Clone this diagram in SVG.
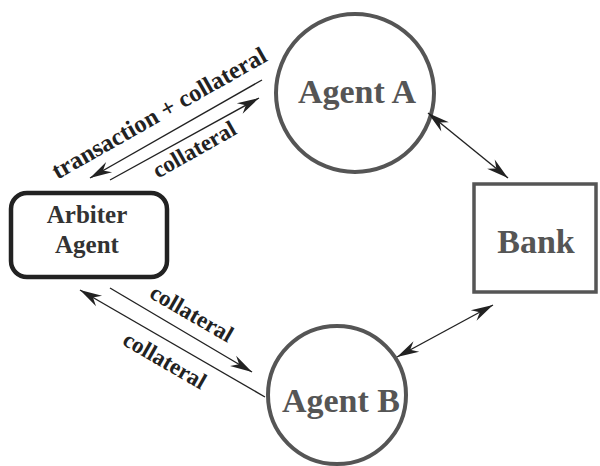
<svg xmlns="http://www.w3.org/2000/svg" width="600" height="466" viewBox="0 0 600 466">
  <style>
    .node { fill: none; stroke: #555; stroke-width: 4; }
    .label { font-family: "Liberation Serif", "Times New Roman", serif; font-weight: bold; fill: #555; text-anchor: middle; }
    .edge { stroke: #222; stroke-width: 1.4; fill: none; }
    .edge-label { font-family: "Liberation Serif", "Times New Roman", serif; font-weight: bold; font-size: 23px; fill: #222; text-anchor: middle; }
  </style>
  <defs>
    <marker id="head" markerUnits="userSpaceOnUse" markerWidth="26" markerHeight="16" viewBox="-24 -8 26 16" refX="0" refY="0" orient="auto-start-reverse">
      <path d="M0,0 L-22,-6 L-15,0 L-22,6 Z" fill="#222"/>
    </marker>
  </defs>
  <rect width="600" height="466" fill="#fff"/>

  <g id="agent-a">
    <circle class="node" cx="355" cy="93" r="79"/>
    <text class="label" x="357" y="103" font-size="34">Agent A</text>
  </g>

  <g id="agent-b">
    <circle class="node" cx="337" cy="395" r="69"/>
    <text class="label" x="341" y="412" font-size="34">Agent B</text>
  </g>

  <g id="bank">
    <rect class="node" x="474" y="184" width="122" height="108" style="stroke-width:3.5"/>
    <text class="label" x="536" y="253" font-size="34">Bank</text>
  </g>

  <g id="arbiter">
    <rect class="node" x="11" y="193" width="156" height="84" rx="16" style="stroke:#222;stroke-width:4.5"/>
    <text class="label" x="87" y="223" font-size="25" style="fill:#333">Arbiter</text>
    <text class="label" x="87" y="253" font-size="25" style="fill:#333">Agent</text>
  </g>

  <g id="connectors">
    <!-- Agent A <-> Arbiter -->
    <line class="edge" x1="262" y1="80" x2="90" y2="178" marker-end="url(#head)"/>
    <line class="edge" x1="110" y1="180" x2="259" y2="98" marker-end="url(#head)"/>
    <!-- Arbiter <-> Agent B -->
    <line class="edge" x1="110" y1="288" x2="252" y2="372" marker-end="url(#head)"/>
    <line class="edge" x1="265" y1="397" x2="80" y2="290" marker-end="url(#head)"/>
    <!-- Agents <-> Bank -->
    <line class="edge" x1="428" y1="113" x2="508" y2="178" marker-start="url(#head)" marker-end="url(#head)"/>
    <line class="edge" x1="397" y1="357" x2="493" y2="305" marker-start="url(#head)" marker-end="url(#head)"/>

    <text class="edge-label" transform="translate(163,120) rotate(-29.5)" style="font-size:24.5px">transaction + collateral</text>
    <text class="edge-label" transform="translate(198,156) rotate(-29.5)">collateral</text>
    <text class="edge-label" transform="translate(188,320) rotate(30)">collateral</text>
    <text class="edge-label" transform="translate(161,367) rotate(30)">collateral</text>
  </g>
</svg>
